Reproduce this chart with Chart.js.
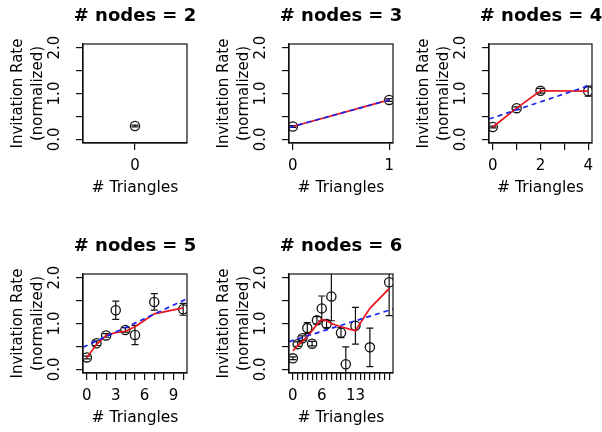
<!DOCTYPE html>
<html><head><meta charset="utf-8">
<script src="https://cdn.jsdelivr.net/npm/chart.js@4.4.1/dist/chart.umd.min.js"></script>
<style>
html,body{margin:0;padding:0;background:#fff;width:602px;height:432px;overflow:hidden;}
canvas{position:absolute;}
</style></head><body>
<script>
// ---------------- data ----------------
const panelTitles = ['# nodes = 2', '# nodes = 3', '# nodes = 4', '# nodes = 5', '# nodes = 6'];

const triangles2 = [0];
const rate2      = [0.29];
const err2       = [0.02];

const triangles3 = [0, 1];
const rate3      = [0.28, 0.86];
const err3       = [0.02, 0.03];
const smooth3    = [0.28, 0.86];

const triangles4 = [0, 1, 2, 4];
const rate4      = [0.27, 0.68, 1.06, 1.05];
const err4       = [0.02, 0.03, 0.05, 0.11];
const smooth4    = [0.27, 0.68, 1.06, 1.05];

const triangles5 = [0, 1, 2, 3, 4, 5, 7, 10];
const rate5      = [0.26, 0.57, 0.74, 1.29, 0.86, 0.75, 1.47, 1.31];
const err5       = [0.03, 0.05, 0.04, 0.20, 0.05, 0.21, 0.18, 0.13];
const smooth5    = [0.26, 0.54, 0.74, 0.80, 0.83, 0.93, 1.21, 1.34];

const triangles6 = [0, 1, 2, 3, 4, 5, 6, 7, 8, 10, 11, 13, 16, 20];
const rate6      = [0.24, 0.55, 0.68, 0.90, 0.56, 1.07, 1.33, 0.99, 1.59, 0.80, 0.11, 0.95, 0.48, 1.90];
const err6       = [0.03, 0.05, 0.05, 0.12, 0.05, 0.08, 0.27, 0.08, 0.53, 0.11, 0.38, 0.40, 0.42, 0.73];
const smooth6    = [0.40, 0.52, 0.61, 0.72, 0.84, 0.98, 1.09, 1.06, 1.00, 0.93, 0.90, 0.84, 1.33, 1.76];

// linear fit (blue dashed) coefficients per panel
const fitIntercept = [null, 0.28, 0.47, 0.52, 0.63];
const fitSlope     = [null, 0.58, 0.174, 0.098, 0.033];

// x tick positions and labels
const xTicks2 = [0];                 const xLabels2 = ['0'];
const xTicks3 = [0, 1];              const xLabels3 = ['0', '1'];
const xTicks4 = [0, 1, 2, 3, 4];     const xLabels4 = ['0', '', '2', '', '4'];
const xTicks5 = [0,1,2,3,4,5,6,7,8,9,10];
const xLabels5 = ['0','','','3','','','6','','','9',''];
const xTicks6 = [0,1,2,3,4,5,6,7,8,9,10,11,12,13,14,15,16,17,18,19,20];
const xLabels6 = ['0','','','','','','6','','','','','','','13','','','','','','',''];

const yTickValues = [0, 0.5, 1, 1.5, 2];
const yTickLabels = ['0.0', '', '1.0', '', '2.0'];
const yMin = 0, yMax = 2;

const xAxisTitle = '# Triangles';
const yAxisTitle = ['Invitation Rate', '(normalized)'];

// ---------------- layout ----------------
const panels = [
  {x: triangles2, y: rate2, err: err2, smooth: null,    ticks: xTicks2, labels: xLabels2},
  {x: triangles3, y: rate3, err: err3, smooth: smooth3, ticks: xTicks3, labels: xLabels3},
  {x: triangles4, y: rate4, err: err4, smooth: smooth4, ticks: xTicks4, labels: xLabels4},
  {x: triangles5, y: rate5, err: err5, smooth: smooth5, ticks: xTicks5, labels: xLabels5},
  {x: triangles6, y: rate6, err: err6, smooth: smooth6, ticks: xTicks6, labels: xLabels6}
];
const canvasLeft = [0, 206, 406, 0, 206];
const canvasTop  = [0, 0, 0, 230, 230];
const rightSpace = [83, 83, 84, 83, 83];
const CW = 270, CH = 230;
const FONT = 'DejaVu Sans';

const framePlugin = {
  id: 'frame',
  afterDatasetsDraw(chart) {
    const a = chart.chartArea, ctx = chart.ctx;
    ctx.save();
    ctx.strokeStyle = '#111';
    ctx.lineWidth = 1.2;
    ctx.strokeRect(a.left, a.top, a.right - a.left, a.bottom - a.top);
    ctx.restore();
  }
};

const errorBarPlugin = {
  id: 'errorBars',
  beforeDatasetsDraw(chart) {
    const ctx = chart.ctx, a = chart.chartArea;
    const xs = chart.scales.x, ys = chart.scales.y;
    ctx.save();
    ctx.beginPath();
    ctx.rect(a.left, a.top, a.right - a.left, a.bottom - a.top);
    ctx.clip();
    ctx.strokeStyle = '#111';
    ctx.lineWidth = 1.2;
    chart.data.datasets.forEach(ds => {
      if (!ds.errors) return;
      ds.data.forEach((pt, i) => {
        const e = ds.errors[i];
        const px = xs.getPixelForValue(pt.x);
        const y0 = ys.getPixelForValue(pt.y - e);
        const y1 = ys.getPixelForValue(pt.y + e);
        ctx.beginPath();
        ctx.moveTo(px, y0); ctx.lineTo(px, y1);
        ctx.moveTo(px - 3.5, y0); ctx.lineTo(px + 3.5, y0);
        ctx.moveTo(px - 3.5, y1); ctx.lineTo(px + 3.5, y1);
        ctx.stroke();
      });
    });
    ctx.restore();
  }
};

panels.forEach((p, k) => {
  const cv = document.createElement('canvas');
  cv.width = CW; cv.height = CH;
  cv.style.left = canvasLeft[k] + 'px';
  cv.style.top = canvasTop[k] + 'px';
  cv.style.width = CW + 'px'; cv.style.height = CH + 'px';
  document.body.appendChild(cv);

  const lo = Math.min(...p.x), hi = Math.max(...p.x);
  const rng = hi - lo;
  const xMin = rng === 0 ? lo - 1.08 : lo - 0.04 * rng;
  const xMax = rng === 0 ? hi + 1.08 : hi + 0.04 * rng;
  const yr = yMax - yMin;

  const datasets = [{
    type: 'scatter',
    data: p.x.map((v, i) => ({x: v, y: p.y[i]})),
    errors: p.err,
    pointStyle: 'circle',
    pointRadius: 4.6,
    pointBorderWidth: 1.3,
    pointBorderColor: '#111',
    pointBackgroundColor: 'rgba(0,0,0,0)',
    showLine: false,
    order: 3
  }];
  if (p.smooth) {
    datasets.push({
      type: 'line',
      data: p.x.map((v, i) => ({x: v, y: p.smooth[i]})),
      borderColor: '#e8141c',
      borderWidth: 1.7,
      pointRadius: 0,
      fill: false,
      tension: 0,
      order: 2
    });
  }
  if (fitIntercept[k] !== null) {
    datasets.push({
      type: 'line',
      data: [xMin, xMax].map(v => ({x: v, y: fitIntercept[k] + fitSlope[k] * v})),
      borderColor: '#1c24f0',
      borderWidth: 1.7,
      borderDash: [5, 4],
      pointRadius: 0,
      fill: false,
      order: 1
    });
  }

  const axisCommon = {
    grid: {drawOnChartArea: false, drawTicks: true, tickLength: 7, color: '#111', lineWidth: 1.2},
    border: {display: true, color: '#111', width: 1.2}
  };

  new Chart(cv, {
    type: 'scatter',
    data: {datasets},
    plugins: [framePlugin, errorBarPlugin],
    options: {
      responsive: false,
      animation: false,
      devicePixelRatio: 1,
      layout: {padding: 0},
      plugins: {
        legend: {display: false},
        tooltip: {enabled: false},
        title: {
          display: true, text: panelTitles[k], color: '#000', fullSize: true,
          font: {family: FONT, size: 18, weight: 'bold'},
          padding: {top: 6, bottom: 16.4}
        }
      },
      scales: {
        x: Object.assign({}, axisCommon, {
          type: 'linear', min: xMin, max: xMax,
          afterBuildTicks: s => { s.ticks = p.ticks.map(v => ({value: v})); },
          afterFit: s => { s.height = 87; },
          ticks: {
            autoSkip: false, minRotation: 0, maxRotation: 0, padding: 7, color: '#000',
            font: {family: FONT, size: 15},
            callback: v => { const i = p.ticks.indexOf(v); return i >= 0 ? p.labels[i] : ''; }
          },
          title: {
            display: true, text: xAxisTitle, color: '#000',
            font: {family: FONT, size: 15.5},
            padding: {top: 0, bottom: 32.7}
          }
        }),
        y: Object.assign({}, axisCommon, {
          type: 'linear', min: yMin - 0.04 * yr, max: yMax + 0.04 * yr,
          afterBuildTicks: s => { s.ticks = yTickValues.map(v => ({value: v})); },
          afterFit: s => { s.width = 83; },
          ticks: {
            autoSkip: false, minRotation: 90, maxRotation: 90, crossAlign: 'center', padding: 9, color: '#000',
            font: {family: FONT, size: 15},
            callback: v => { const i = yTickValues.indexOf(v); return i >= 0 ? yTickLabels[i] : ''; }
          },
          title: {
            display: true, text: yAxisTitle, color: '#000',
            font: {family: FONT, size: 15, lineHeight: 1.333},
            padding: {top: 8.5, bottom: 0}
          }
        }),
        // empty spacer on the right so the panel title is centred over the plot box
        spacer: {
          type: 'linear', position: 'right', display: true,
          ticks: {display: false}, grid: {display: false}, border: {display: false},
          afterFit: s => { s.width = rightSpace[k]; }
        }
      }
    }
  });
});
</script>
</body></html>
